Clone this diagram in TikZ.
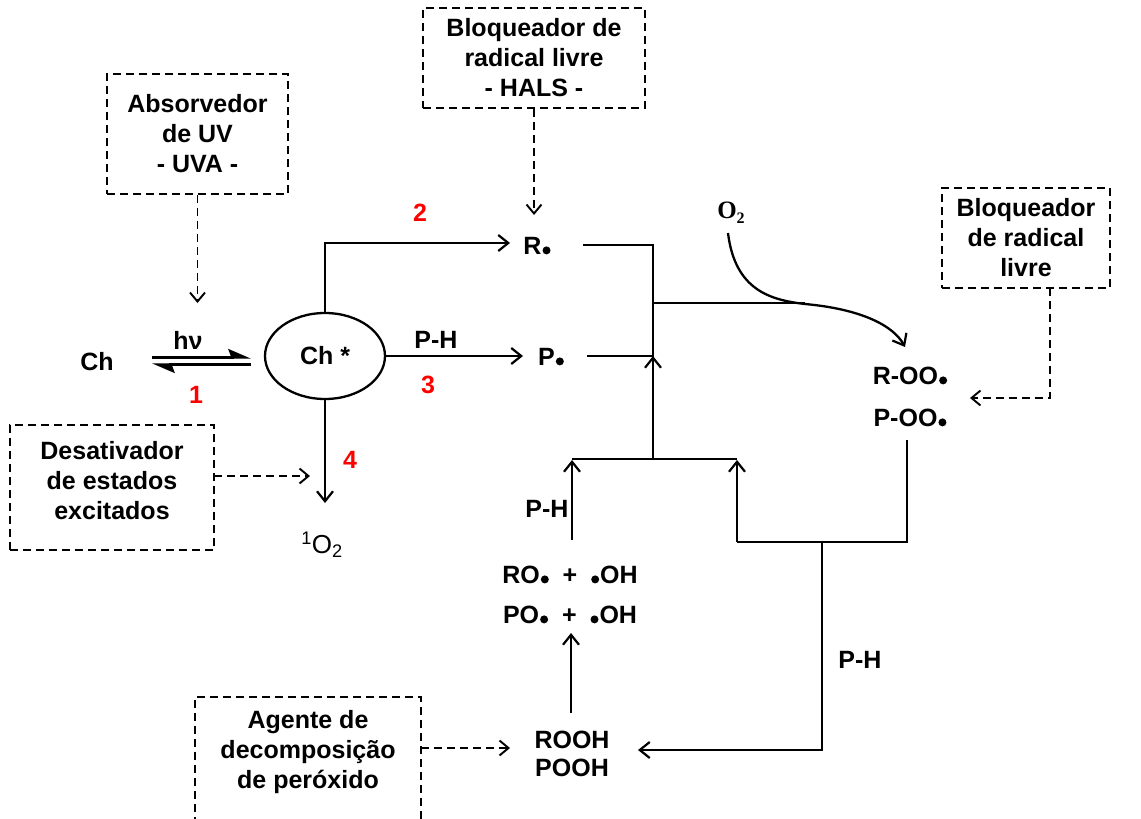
\documentclass[tikz,border=0pt]{standalone}
\usepackage{fontspec}
\setmainfont{Liberation Sans}
\newfontfamily\timesf{Liberation Serif}
\usetikzlibrary{arrows.meta,shapes.geometric}
\newcommand\bdot{\tikz[baseline=0pt]\fill (0pt,4.2pt) circle[radius=4pt];}
\begin{document}
\begin{tikzpicture}[x=1pt,y=-1pt,
  every node/.style={font=\fontsize{25}{30}\selectfont\bfseries, inner sep=0pt},
  dbox/.style={draw, line width=1.9pt, dash pattern=on 8pt off 5pt, align=center},
  ln/.style={line width=2.3pt},
  arr/.style={ln, -{Straight Barb[length=10pt,width=16pt,line width=2.2pt]}},
  darr/.style={line width=1.9pt, dash pattern=on 8pt off 5pt, -{Straight Barb[length=9pt,width=15pt,line width=1.9pt]}},
  num/.style={text=red},
  harp/.style={ln, -{Stealth[harpoon,length=20pt,width=17pt,inset=3pt]}}
]
\path[use as bounding box] (0,0) rectangle (1141,819);

% boxes
\node[dbox, minimum width=181, minimum height=120] (uva) at (197.5,134) {Absorvedor\\de UV\\- UVA -};
\node[dbox, minimum width=222, minimum height=100] (hals) at (534,58) {Bloqueador de\\radical livre\\- HALS -};
\node[dbox, minimum width=168, minimum height=100] (blq) at (1026,238) {Bloqueador\\de radical\\livre};
\node[dbox, minimum width=204, minimum height=125] (desat) at (112,487.5) {};
\node[align=center] (desatT) at (112,481) {Desativador\\de estados\\excitados};
\node[align=center, minimum width=226] (agente) at (308,752) {Agente de\\decomposição\\de peróxido};
\draw[line width=1.9pt, dash pattern=on 8pt off 5pt] (195,825) |- (421,697) -- (421,825);

% species
\node (ch) at (97,362) {Ch};
\node (hv) at (188,340) {hν};
\node[num] (n1) at (196,395) {1};
\node[draw, ellipse, ln, minimum width=120, minimum height=86] (chs) at (325,356) {Ch *};
\node[num] (n2) at (420,213) {2};
\node (rdot) at (537,246) {R\kern1pt\bdot};
\node (pdot) at (551,357) {P\kern1pt\bdot};
\node (ph1) at (436,340) {P-H};
\node[num] (n3) at (428,385) {3};
\node[num] (n4) at (350,460) {4};
\node[font=\fontsize{26}{30}\selectfont] (so2) at (322,545) {\textsuperscript{1}O\textsubscript{2}};
\node[font=\timesf\bfseries\fontsize{25}{28}\selectfont] (o2) at (731,213) {O\raisebox{-5pt}{\fontsize{16}{16}\selectfont 2}};
\node (roo) at (910,376) {R-OO\kern1pt\bdot};
\node (poo) at (910,418) {P-OO\kern1pt\bdot};
\node (ph2) at (547,509) {P-H};
\node (ro) at (570,575) {RO\kern1pt\bdot\ \ +\ \ \bdot\kern1pt OH};
\node (po) at (570,615) {PO\kern1pt\bdot\ \ +\ \ \bdot\kern1pt OH};
\node[align=center] (rooh) at (572,754) {ROOH\\[-2pt]POOH};
\node (ph3) at (860,660) {P-H};

% coordinates
\coordinate (eqL) at (152,361);
\coordinate (eqR) at (251,361);
\coordinate (rtip) at (510,243);
\coordinate (ptip) at (523,356);
\coordinate (rS) at (583,245);
\coordinate (pS) at (587,356);
\coordinate (jR) at (653,245);
\coordinate (jP) at (653,356);
\coordinate (jM) at (653,303);
\coordinate (jMe) at (805,303);
\coordinate (o2s) at (728,233);
\coordinate (o2e) at (905,347);
\coordinate (a1) at (907,440);
\coordinate (a2) at (907,542);
\coordinate (a3) at (737,542);
\coordinate (a4) at (737,460);
\coordinate (hL) at (572,459);
\coordinate (hM) at (653,459);
\coordinate (hR) at (737,459);
\coordinate (lB) at (572,540);
\coordinate (lT) at (572,460);
\coordinate (bJ) at (822,542);
\coordinate (roohTip) at (638,750);
\coordinate (poTip) at (571,633);
\coordinate (roohTop) at (571,713);
\coordinate (so2Tip) at (325,503);
\coordinate (uvaTip) at (197.5,303);
\coordinate (halsTip) at (534,215);
\coordinate (blqS) at (1050,288);
\coordinate (rooTip) at (970,398);
\coordinate (desS) at (214,476);
\coordinate (desTip) at (310,476);
\coordinate (agS) at (421,748);
\coordinate (agTip) at (510,748);

% connectors
\draw[harp] ([yshift=3.5pt]eqL) -- ([yshift=3.5pt]eqR);
\draw[harp] ([yshift=-3.5pt]eqR) -- ([yshift=-3.5pt]eqL);
\draw[arr] (chs.north) |- (rtip);
\draw[arr] (chs.east) -- (ptip);
\draw[arr] (chs.south) -- (so2Tip);
\draw[ln] (rS) -- (jR) -- (jP) -- (pS);
\draw[ln] (jM) -- (jMe);
\draw[arr] (o2s) .. controls (735,290) and (770,300) .. (805,304) .. controls (860,309) and (893,325) .. (o2e);
\draw[ln] (a1) -- (a2) -- (a3);
\draw[arr] (a3) -- (a4);
\draw[ln] (hL) -- (hR);
\draw[arr] (hM) -- (jP);
\draw[arr] (lB) -- (lT);
\draw[arr] (bJ) |- (roohTip);
\draw[arr] (roohTop) -- (poTip);

\draw[darr] (uva.south) -- (uvaTip);
\draw[darr] (hals.south) -- (halsTip);
\draw[darr] (blqS) |- (rooTip);
\draw[darr] (desS) -- (desTip);
\draw[darr] (agS) -- (agTip);
\end{tikzpicture}
\end{document}
